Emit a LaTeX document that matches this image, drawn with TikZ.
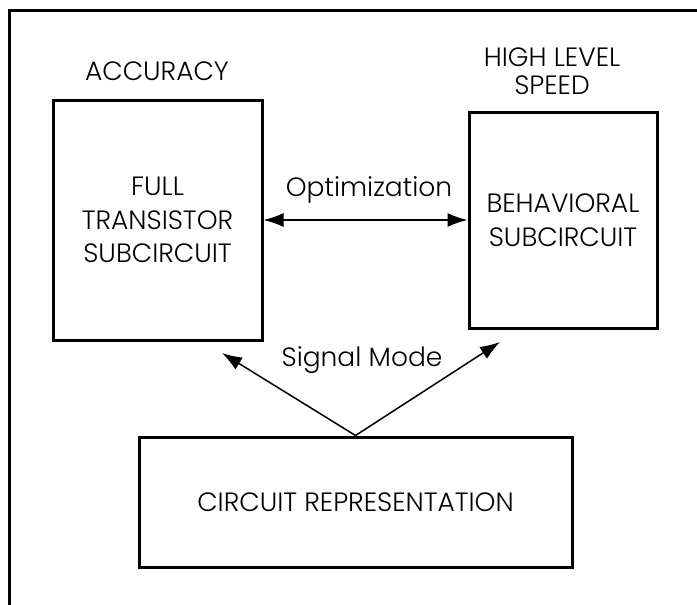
\documentclass[tikz,border=0pt]{standalone}
\usepackage{fontspec}
\setmainfont{Poppins}[UprightFont=* Light]
\usepackage{tikz}
\usetikzlibrary{arrows.meta, positioning}

\begin{document}
\begin{tikzpicture}[
  x=1pt, y=-1pt,
  blockbox/.style={
    draw=black, line width=3pt,
    align=center, inner sep=0pt,
    font=\fontsize{26.5}{33.5}\selectfont
  },
  caption/.style={
    align=center, inner sep=0pt,
    font=\fontsize{26.5}{28}\selectfont
  },
  arrow/.style={
    -{Latex[length=20pt, width=14pt]},
    line width=1.5pt, draw=black
  },
  dblarrow/.style={
    {Latex[length=20pt, width=14pt]}-{Latex[length=20pt, width=14pt]},
    line width=1.5pt, draw=black
  }
]
\useasboundingbox (0,0) rectangle (697,605);
\draw[line width=3pt] (9,605) -- (9,10) -- (697,10);

\node[caption, anchor=base] (acc) at (157, 80) {ACCURACY};
\node[caption] (hls) at (552, 71) {HIGH LEVEL\\SPEED};

\node[blockbox, minimum width=209pt, minimum height=240pt] (trans) at (157.5, 220) {FULL\\TRANSISTOR\\SUBCIRCUIT};
\node[blockbox, minimum width=188pt, minimum height=216pt] (behav) at (563, 220) {BEHAVIORAL\\SUBCIRCUIT};
\node[blockbox, minimum width=433pt, minimum height=130pt] (repr) at (355.5, 502) {CIRCUIT REPRESENTATION};

\node[caption, anchor=base] (opt) at (369, 196) {Optimization};
\node[caption, anchor=base] (sig) at (362, 366) {Signal Mode};

\coordinate (sigl) at (222, 353);
\coordinate (sigr) at (500, 342);

\draw[dblarrow] (trans) -- (behav);
\draw[arrow] (repr.north) -- (sigl);
\draw[arrow] (repr.north) -- (sigr);
\end{tikzpicture}
\end{document}
